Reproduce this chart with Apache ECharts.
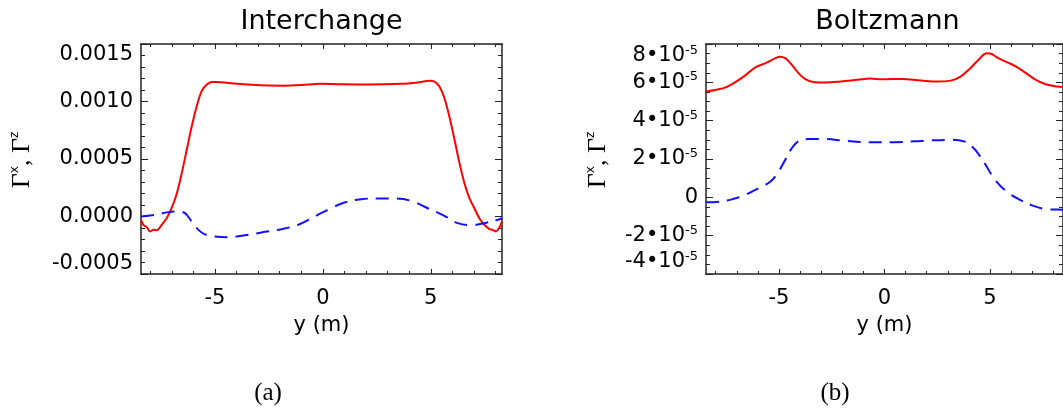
<!DOCTYPE html>
<html>
<head>
<meta charset="utf-8">
<script src="https://cdn.jsdelivr.net/npm/echarts@6/dist/echarts.min.js"></script>
<style>
  html, body { margin: 0; padding: 0; background: #fff; }
  #main { width: 1063px; height: 410px; }
</style>
</head>
<body>
<div id="main"></div>
<script>
// (a) Interchange : red solid (Gamma x), blue dashed (Gamma z)
var aRedY = [-8.43, -8.32, -8.16, -8.01, -7.85, -7.70, -7.47, -7.24, -7.01, -6.77, -6.54, -6.31, -6.08, -5.85, -5.62, -5.39, -5.15, -4.92, -4.38, -3.30, -1.91, -0.99, -0.14,
             0.69, 2.08, 3.63, 4.40, 4.94, 5.17, 5.40, 5.63, 5.86, 6.10, 6.33, 6.56, 6.79, 7.02, 7.25, 7.48, 7.72, 7.87, 8.02, 8.18, 8.30];
var aRedVal = [-0.00003, -0.000072, -0.000093, -0.00013, -0.000116, -0.00012, -0.000072, -0.000015, 0.000072, 0.0002, 0.000377, 0.00058, 0.000783, 0.000957, 0.00109, 0.001145, 0.001169, 0.00117, 0.00116, 0.001145, 0.001137, 0.001143, 0.001154,
               0.001151, 0.001148, 0.001154, 0.001166, 0.00118, 0.001172, 0.00113, 0.00103, 0.00087, 0.000667, 0.000464, 0.00029, 0.00016, 0.000072, -0.000015, -0.000072, -0.00011, -0.000116, -0.00013, -0.000096, -0.000043];
var aBlueY = [-8.43, -7.78, -7.16, -6.70, -6.39, -6.08, -5.62, -5.00, -4.38, -3.77, -2.84, -1.91, -1.14, -0.52, -0.18,
              0.39, 1.00, 1.77, 2.55, 3.32, 4.09, 4.86, 5.63, 6.25, 6.87, 7.48, 8.10, 8.30];
var aBlueVal = [0.0, 0.000014, 0.000038, 0.000043, 0.000029, -0.000043, -0.000139, -0.000174, -0.00018, -0.000168, -0.000139, -0.00011, -0.000072, -0.000015, 0.00002,
                0.000072, 0.000122, 0.00015, 0.000157, 0.000157, 0.000136, 0.000072, 0.000006, -0.000058, -0.000075, -0.000058, -0.000029, -0.000015];

// (b) Boltzmann
var bRedY = [-8.46, -7.97, -7.50, -7.03, -6.57, -6.10, -5.64, -5.17, -4.94, -4.70, -4.39, -4.08, -3.77, -3.39, -2.84, -2.07, -1.29, -0.67, -0.12,
             0.81, 1.74, 2.52, 3.14, 3.60, 4.07, 4.53, 4.84, 5.08, 5.39, 5.85, 6.24, 6.71, 7.17, 7.64, 8.17, 8.46];
var bRedVal = [5.52e-5, 5.61e-5, 5.75e-5, 6.04e-5, 6.39e-5, 6.79e-5, 7.0e-5, 7.26e-5, 7.34e-5, 7.26e-5, 6.91e-5, 6.48e-5, 6.18e-5, 6.02e-5, 5.99e-5, 6.04e-5, 6.13e-5, 6.2e-5, 6.16e-5,
               6.18e-5, 6.09e-5, 6.04e-5, 6.09e-5, 6.30e-5, 6.74e-5, 7.26e-5, 7.52e-5, 7.48e-5, 7.26e-5, 7.03e-5, 6.82e-5, 6.48e-5, 6.13e-5, 5.90e-5, 5.78e-5, 5.76e-5];
var bBlueY = [-8.46, -7.81, -7.19, -6.57, -5.95, -5.40, -5.02, -4.70, -4.39, -4.08, -3.62, -2.84, -1.91, -0.98, -0.12,
              0.50, 1.43, 2.20, 3.14, 3.76, 4.22, 4.53, 4.84, 5.23, 5.78, 6.40, 7.02, 7.64, 8.17, 8.46];
var bBlueVal = [-0.26e-5, -0.23e-5, -0.09e-5, 0.14e-5, 0.49e-5, 0.83e-5, 1.35e-5, 1.96e-5, 2.57e-5, 2.92e-5, 3.04e-5, 3.04e-5, 2.95e-5, 2.88e-5, 2.88e-5,
                2.88e-5, 2.92e-5, 2.97e-5, 3.0e-5, 2.92e-5, 2.57e-5, 2.14e-5, 1.61e-5, 0.92e-5, 0.31e-5, -0.12e-5, -0.43e-5, -0.61e-5, -0.64e-5, -0.65e-5];

var xMajorTicks = [-5, 0, 5];
var xMinorTicks = [-8, -7, -6, -4, -3, -2, -1, 1, 2, 3, 4, 6, 7, 8];

var FONT = '"DejaVu Sans", sans-serif';
var SERIF = '"Liberation Serif", "DejaVu Serif", serif';
var AX = '#222';

function pairs(xs, vs) {
    return xs.map(function (x, i) { return [x, vs[i]]; });
}

function xAxes(gi, min, max) {
    var base = { type: 'value', gridIndex: gi, min: min, max: max, splitLine: { show: false } };
    var line = { show: true, onZero: false, lineStyle: { color: AX, width: 1.5 } };
    var noLine = { show: false, onZero: false };
    return [
        Object.assign({}, base, {
            position: 'bottom', axisLine: line,
            axisTick: { inside: true, length: 5, customValues: xMajorTicks, lineStyle: { color: AX } },
            axisLabel: { customValues: xMajorTicks, margin: 14, fontSize: 21, color: '#000', fontFamily: FONT },
            name: 'y (m)', nameLocation: 'middle', nameGap: 41,
            nameTextStyle: { fontSize: 21, color: '#000', fontFamily: FONT }
        }),
        Object.assign({}, base, {
            position: 'bottom', axisLine: noLine,
            axisTick: { inside: true, length: 3, customValues: xMinorTicks, lineStyle: { color: AX } },
            axisLabel: { show: false }
        }),
        Object.assign({}, base, {
            position: 'top', axisLine: line,
            axisTick: { inside: true, length: 5, customValues: xMajorTicks, lineStyle: { color: AX } },
            axisLabel: { show: false }
        }),
        Object.assign({}, base, {
            position: 'top', axisLine: noLine,
            axisTick: { inside: true, length: 3, customValues: xMinorTicks, lineStyle: { color: AX } },
            axisLabel: { show: false }
        })
    ];
}

function yAxes(gi, min, max, interval, minorSplit, formatter, rich) {
    var base = {
        type: 'value', gridIndex: gi, min: min, max: max, interval: interval,
        splitLine: { show: false },
        axisLine: { show: true, onZero: false, lineStyle: { color: AX, width: 1.5 } },
        axisTick: { inside: true, length: 7, lineStyle: { color: AX } },
        minorTick: { show: true, splitNumber: minorSplit, length: 4, lineStyle: { color: AX } }
    };
    return [
        Object.assign({}, base, {
            position: 'left',
            axisLabel: {
                margin: 8, fontSize: 21, color: '#000', fontFamily: FONT,
                formatter: formatter, rich: rich,
                verticalAlignMinLabel: 'bottom', verticalAlignMaxLabel: 'top'
            }
        }),
        Object.assign({}, base, { position: 'right', axisLabel: { show: false } })
    ];
}

var bRich = {
    m: { fontSize: 21, lineHeight: 24, fontFamily: FONT, color: '#000' },
    s: { fontSize: 13, lineHeight: 13, verticalAlign: 'top', fontFamily: FONT, color: '#000' }
};

var chart = echarts.init(document.getElementById('main'));
chart.setOption({
    animation: false,
    backgroundColor: '#fff',
    grid: [
        { left: 141, top: 44, width: 361, height: 230 },
        { left: 706, top: 44, width: 363, height: 230 }
    ],
    xAxis: xAxes(0, -8.43, 8.3).concat(xAxes(1, -8.46, 8.46)),
    yAxis: yAxes(0, -0.0005, 0.0015, 0.0005, 5, function (v) { return v.toFixed(4); }, null)
        .concat(yAxes(1, -4e-5, 8e-5, 2e-5, 4, function (v) {
            var k = Math.round(v * 1e5);
            return k === 0 ? '{m|0}' : '{m|' + k + '•10}{s|-5}';
        }, bRich)),
    series: [
        { type: 'line', xAxisIndex: 0, yAxisIndex: 0, data: pairs(aRedY, aRedVal), smooth: 0.3, showSymbol: false,
          lineStyle: { color: '#ff0000', width: 2 } },
        { type: 'line', xAxisIndex: 0, yAxisIndex: 0, data: pairs(aBlueY, aBlueVal), smooth: 0.4, showSymbol: false,
          lineStyle: { color: '#1010ff', width: 2, type: [13, 8] } },
        { type: 'line', xAxisIndex: 4, yAxisIndex: 2, data: pairs(bRedY, bRedVal), smooth: 0.4, showSymbol: false,
          lineStyle: { color: '#ff0000', width: 2 } },
        { type: 'line', xAxisIndex: 4, yAxisIndex: 2, data: pairs(bBlueY, bBlueVal), smooth: 0.4, showSymbol: false,
          lineStyle: { color: '#1010ff', width: 2, type: [13, 8] } }
    ],
    graphic: [
        { type: 'text', x: 321.5, y: 22, style: { text: 'Interchange', align: 'center', verticalAlign: 'middle', fontSize: 27, fontFamily: FONT, fill: '#000' } },
        { type: 'text', x: 887.5, y: 22, style: { text: 'Boltzmann', align: 'center', verticalAlign: 'middle', fontSize: 27, fontFamily: FONT, fill: '#000' } },
        { type: 'text', x: 268, y: 393, style: { text: '(a)', align: 'center', verticalAlign: 'middle', fontSize: 25, fontFamily: SERIF, fill: '#000' } },
        { type: 'text', x: 835, y: 393, style: { text: '(b)', align: 'center', verticalAlign: 'middle', fontSize: 25, fontFamily: SERIF, fill: '#000' } },
        { type: 'text', x: 22, y: 160, rotation: Math.PI / 2,
          style: { text: '{g|Γ}{s|x}{g|, Γ}{s|z}', align: 'center', verticalAlign: 'middle',
                   rich: { g: { fontSize: 26, lineHeight: 26, fontFamily: SERIF, fill: '#000' },
                           s: { fontSize: 12, lineHeight: 12, verticalAlign: 'top', fontFamily: FONT, fill: '#000' } } } },
        { type: 'text', x: 598, y: 160, rotation: Math.PI / 2,
          style: { text: '{g|Γ}{s|x}{g|, Γ}{s|z}', align: 'center', verticalAlign: 'middle',
                   rich: { g: { fontSize: 26, lineHeight: 26, fontFamily: SERIF, fill: '#000' },
                           s: { fontSize: 12, lineHeight: 12, verticalAlign: 'top', fontFamily: FONT, fill: '#000' } } } }
    ]
});
</script>
</body>
</html>
